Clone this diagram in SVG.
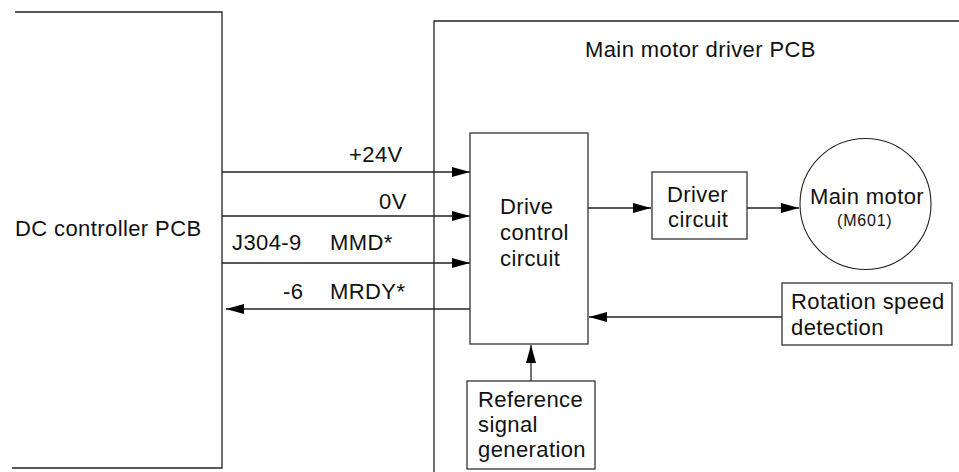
<svg xmlns="http://www.w3.org/2000/svg" width="959" height="472" viewBox="0 0 959 472">
<defs>
<marker id="ah" viewBox="0 0 18 10" refX="18" refY="5" markerWidth="18" markerHeight="10" markerUnits="userSpaceOnUse" orient="auto">
<path d="M0,0 L18,5 L0,10 Z" fill="#000"/>
</marker>
<style>
text{font-family:"Liberation Sans",Arial,sans-serif;font-size:22px;letter-spacing:0.4px;fill:#111}
.sm{font-size:16px;letter-spacing:0.8px}
.ln{fill:none;stroke:#222;stroke-width:1.3}
.bx{fill:#fff;stroke:#333;stroke-width:1.3}
.cn{fill:none;stroke:#222;stroke-width:1.3;marker-end:url(#ah)}
</style>
</defs>
<rect width="959" height="472" fill="#fff"/>
<g id="dc-controller">
<path class="ln" d="M15,12 H222 V468 H12"/>
<text x="15" y="236">DC controller PCB</text>
</g>
<g id="main-driver-pcb">
<path class="ln" d="M434,472 V21 H959"/>
<text x="585" y="57">Main motor driver PCB</text>
</g>
<g id="connectors">
<line class="cn" x1="222" y1="172" x2="470" y2="172"/>
<line class="cn" x1="222" y1="216" x2="470" y2="216"/>
<line class="cn" x1="222" y1="263" x2="470" y2="263"/>
<line class="cn" x1="470" y1="309" x2="226" y2="309"/>
<line class="cn" x1="588" y1="208" x2="651" y2="208"/>
<line class="cn" x1="747" y1="208" x2="799" y2="208"/>
<line class="cn" x1="782" y1="317" x2="589" y2="317"/>
<line class="cn" x1="531" y1="381" x2="531" y2="345"/>
<text x="349" y="162">+24V</text>
<text x="379" y="209">0V</text>
<text x="232" y="250">J304-9</text>
<text x="330" y="250">MMD*</text>
<text x="283" y="299">-6</text>
<text x="330" y="299">MRDY*</text>
</g>
<g id="drive-control">
<rect class="bx" x="470" y="133" width="118" height="211"/>
<text x="500" y="214">Drive</text>
<text x="500" y="240">control</text>
<text x="500" y="266">circuit</text>
</g>
<g id="driver-circuit">
<rect class="bx" x="652" y="172" width="95" height="67"/>
<text x="667" y="202">Driver</text>
<text x="668" y="227">circuit</text>
</g>
<g id="main-motor">
<circle cx="865.5" cy="204" r="65.5" fill="#fff" stroke="#222" stroke-width="1.1"/>
<text x="810" y="204">Main motor</text>
<text class="sm" x="837" y="226">(M601)</text>
</g>
<g id="rotation-speed">
<rect class="bx" x="782" y="283" width="170" height="62"/>
<text x="791" y="309">Rotation speed</text>
<text x="791" y="335">detection</text>
</g>
<g id="reference-signal">
<rect class="bx" x="467" y="381" width="128" height="88"/>
<text x="478" y="407">Reference</text>
<text x="478" y="432">signal</text>
<text x="478" y="457">generation</text>
</g>
</svg>
